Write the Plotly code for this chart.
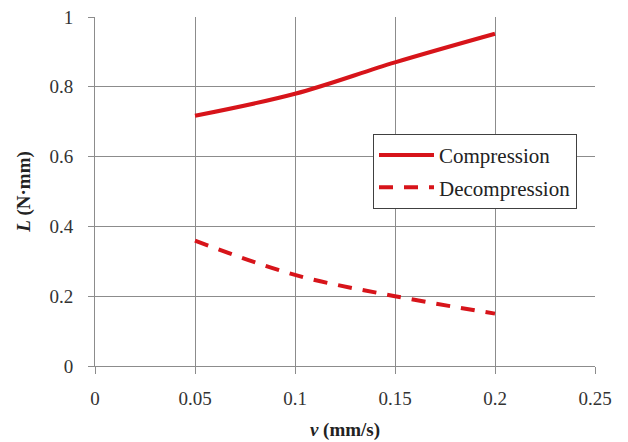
import plotly.graph_objects as go

v = [0.05, 0.10, 0.15, 0.20]
compression = [0.717, 0.780, 0.870, 0.952]
decompression = [0.359, 0.261, 0.200, 0.150]
x_ticks = [0, 0.05, 0.1, 0.15, 0.2, 0.25]
x_labels = ["0", "0.05", "0.1", "0.15", "0.2", "0.25"]
y_ticks = [0, 0.2, 0.4, 0.6, 0.8, 1.0]
y_labels = ["0", "0.2", "0.4", "0.6", "0.8", "1"]

RED = "#d7141a"
GRID = "#8c8c8c"
SERIF = "Liberation Serif, Times New Roman, serif"

fig = go.Figure()
fig.add_trace(go.Scatter(x=v, y=compression, mode="lines", name="Compression",
                         line=dict(color=RED, width=4, shape="spline"),
                         legendgroup="a"))
fig.add_trace(go.Scatter(x=v, y=decompression, mode="lines", name="Decompression",
                         line=dict(color=RED, width=4, shape="spline", dash="14px,11px"),
                         legendgroup="b"))

fig.update_layout(
    width=628, height=442,
    margin=dict(l=95, r=33, t=17, b=76, autoexpand=False),
    paper_bgcolor="white", plot_bgcolor="white",
    font=dict(family=SERIF, size=19, color="#333333"),
    showlegend=True,
    legend=dict(x=0.556, y=0.665, xanchor="left", yanchor="top",
                bgcolor="white", bordercolor="#404040", borderwidth=1,
                font=dict(family=SERIF, size=21, color="#222222"),
                itemwidth=55,
                tracegroupgap=2, traceorder="grouped"),
    xaxis=dict(range=[0, 0.25], tickvals=x_ticks, ticktext=x_labels,
               showgrid=True, gridcolor=GRID, gridwidth=1,
               showline=True, linecolor=GRID, linewidth=1,
               ticks="outside", ticklen=7, tickcolor=GRID,
               ticklabelstandoff=8, zeroline=False, automargin=False,
               title=dict(text="<b><i>v</i> (mm/s)</b>", standoff=14,
                          font=dict(family=SERIF, size=19, color="#222222"))),
    yaxis=dict(range=[0, 1], tickvals=y_ticks, ticktext=y_labels,
               showgrid=True, gridcolor=GRID, gridwidth=1,
               showline=True, linecolor=GRID, linewidth=1,
               ticks="outside", ticklen=6, tickcolor=GRID,
               ticklabelstandoff=11, zeroline=False, automargin=False,
               title=dict(text="<b><i>L</i> (N·mm)</b>", standoff=13,
                          font=dict(family=SERIF, size=19, color="#222222"))),
)

fig.write_html("out.html")
